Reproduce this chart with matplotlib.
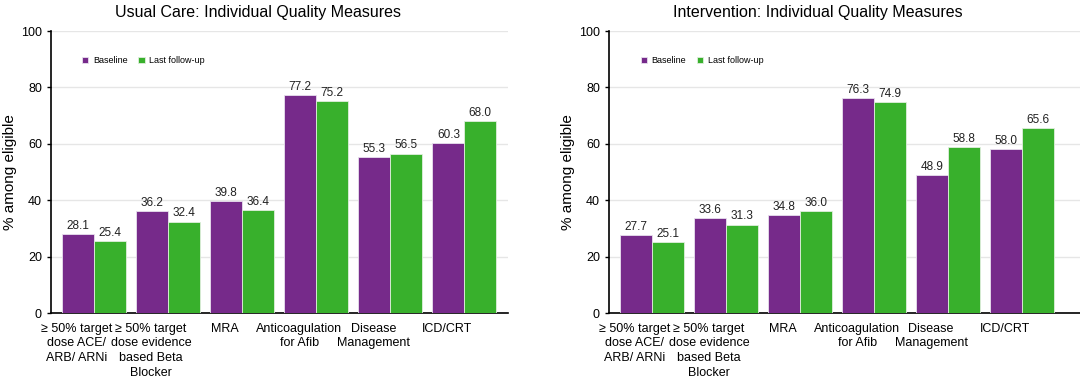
import numpy as np
import matplotlib.pyplot as plt

plt.rcParams['font.family'] = ['Liberation Sans', 'DejaVu Sans']

categories = ["≥ 50% target\ndose ACE/\nARB/ ARNi",
              "≥ 50% target\ndose evidence\nbased Beta\nBlocker",
              "MRA", "Anticoagulation\nfor Afib", "Disease\nManagement", "ICD/CRT"]
usual_baseline = [28.1, 36.2, 39.8, 77.2, 55.3, 60.3]
usual_followup = [25.4, 32.4, 36.4, 75.2, 56.5, 68.0]
interv_baseline = [27.7, 33.6, 34.8, 76.3, 48.9, 58.0]
interv_followup = [25.1, 31.3, 36.0, 74.9, 58.8, 65.6]

purple = '#762A8A'
green = '#38B02C'

fig = plt.figure(figsize=(10.8, 3.79), dpi=100)
W, H = 1080, 379


def panel(left_px, right_px, title, title_x, base, follow, xmax):
    ax = fig.add_axes([left_px / W, 1 - 313 / H, (right_px - left_px) / W, (313 - 31) / H])
    x = np.arange(len(categories))
    w = 0.43
    b1 = ax.bar(x - w / 2, base, w, color=purple, edgecolor='#e8e0ee', linewidth=0.6, label='Baseline', zorder=3)
    b2 = ax.bar(x + w / 2, follow, w, color=green, edgecolor='#e0eedd', linewidth=0.6, label='Last follow-up', zorder=3)
    for bars in (b1, b2):
        for r in bars:
            ax.text(r.get_x() + r.get_width() / 2, r.get_height() + 0.8, f"{r.get_height():.1f}",
                    ha='center', va='bottom', fontsize=8.5, color='#222222')
    ax.set_ylim(0, 100)
    ax.set_xlim(-0.58, xmax)
    ax.set_yticks([0, 20, 40, 60, 80, 100])
    ax.tick_params(axis='y', labelsize=9, length=3, width=1)
    ax.set_xticks(x - 0.23)
    ax.set_xticklabels(categories, fontsize=9, linespacing=1.3)
    ax.tick_params(axis='x', length=0, pad=7)
    ax.grid(axis='y', color='#e6e6e6', linewidth=1, zorder=0)
    for s in ('top', 'right'):
        ax.spines[s].set_visible(False)
    ax.spines['left'].set_linewidth(1.2)
    ax.spines['bottom'].set_linewidth(1.2)
    ax.set_ylabel('% among eligible', fontsize=11, labelpad=3)
    fig.text(title_x / W, 1 - 12 / H, title, ha='center', va='center', fontsize=11.5)
    ax.legend(loc='upper left', bbox_to_anchor=(0.05, 0.94), ncol=2, frameon=False, fontsize=6.5,
              handlelength=0.7, handleheight=0.7, handletextpad=0.5, columnspacing=1.2)
    return ax


panel(51, 508, 'Usual Care: Individual Quality Measures', 258, usual_baseline, usual_followup, 5.59)
panel(609, 1080, 'Intervention: Individual Quality Measures', 818, interv_baseline, interv_followup, 5.78)

fig.savefig('out.png', dpi=100)
